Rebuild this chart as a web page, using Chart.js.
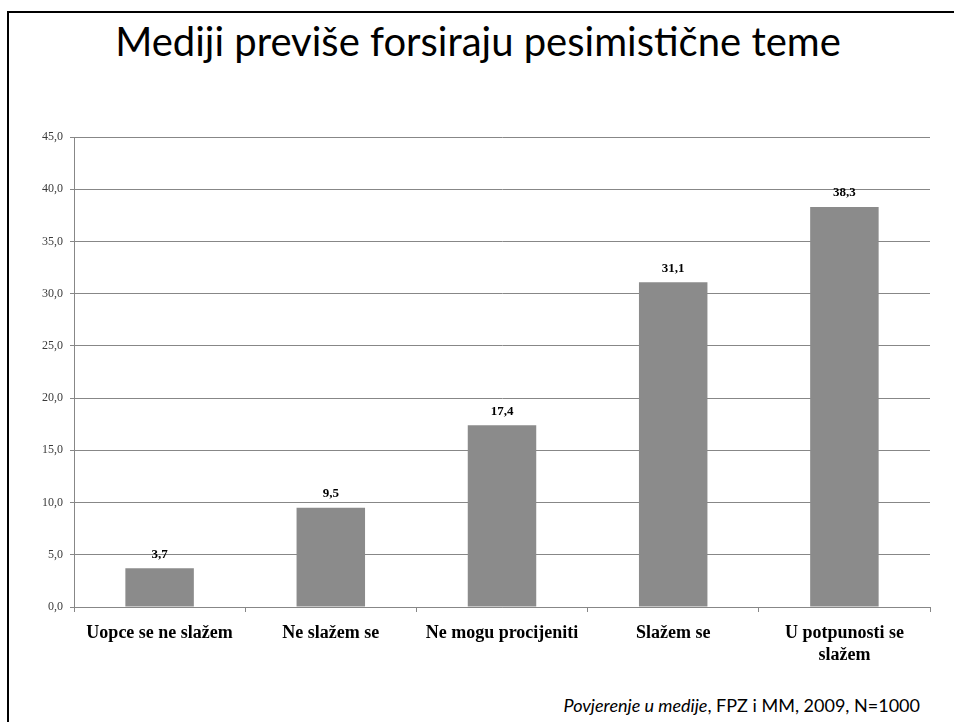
<!DOCTYPE html>
<html>
<head>
<meta charset="utf-8">
<script src="https://cdn.jsdelivr.net/npm/chart.js@4/dist/chart.umd.min.js"></script>
<style>
  html, body { margin:0; padding:0; background:#fff; }
  #wrap { position:relative; width:954px; height:722px; overflow:hidden; }
  #frame { position:absolute; left:7px; top:11px; width:960px; height:730px; border-left:2px solid #000; border-top:2px solid #000; }
  #title { position:absolute; left:0; width:956px; top:17px; text-align:center; font-family:Lato, "Open Sans", sans-serif; font-size:40px; color:#000; white-space:nowrap; }
  #foot { position:absolute; right:34px; top:694px; font-family:Lato, "Open Sans", sans-serif; font-size:18px; color:#000; white-space:nowrap; }
  #cv { position:absolute; left:0; top:0; }
</style>
</head>
<body>
<div id="wrap">
  <div id="frame"></div>
  <div id="title">Mediji previše forsiraju pesimistične teme</div>
  <div id="foot"><i>Povjerenje u medije</i>, FPZ i MM, 2009, N=1000</div>
  <canvas id="cv" width="954" height="722"></canvas>
</div>
<script>
const categories = ["Uopce se ne slažem", "Ne slažem se", "Ne mogu procijeniti", "Slažem se", ["U potpunosti se", "slažem"]];
const values = [3.7, 9.5, 17.4, 31.1, 38.3];
const yTicks = [0, 5, 10, 15, 20, 25, 30, 35, 40, 45];

const fmt = v => Number(v).toFixed(1).replace('.', ',');

const valueLabels = {
  id: 'valueLabels',
  afterDatasetsDraw(chart) {
    const ctx = chart.ctx;
    const meta = chart.getDatasetMeta(0);
    ctx.save();
    ctx.font = 'bold 13px "Liberation Serif", serif';
    ctx.fillStyle = '#000';
    ctx.textAlign = 'center';
    ctx.textBaseline = 'middle';
    meta.data.forEach((bar, i) => {
      ctx.fillText(fmt(chart.data.datasets[0].data[i]), bar.x, bar.y - 14);
    });
    ctx.restore();
  }
};

new Chart(document.getElementById('cv'), {
  type: 'bar',
  data: {
    labels: categories,
    datasets: [{
      data: values,
      backgroundColor: '#8b8b8b',
      borderWidth: 0,
      barPercentage: 0.4,
      categoryPercentage: 1.0
    }]
  },
  options: {
    responsive: false,
    animation: false,
    devicePixelRatio: 1,
    layout: { padding: { top: 137, right: 24, bottom: 0, left: 0 } },
    plugins: { legend: { display: false }, tooltip: { enabled: false }, title: { display: false } },
    scales: {
      x: {
        grid: { drawOnChartArea: false, drawTicks: true, tickLength: 5, offset: true, color: '#878787' },
        border: { color: '#878787', width: 1 },
        ticks: {
          color: '#000',
          padding: 10,
          maxRotation: 0,
          autoSkip: false,
          font: { family: '"Liberation Serif", serif', size: 18, weight: 'bold', lineHeight: 1.25 }
        },
        afterFit(s) { s.height = 115; }
      },
      y: {
        min: 0, max: 45,
        afterBuildTicks(s) { s.ticks = yTicks.map(v => ({ value: v })); },
        grid: { color: '#878787', tickLength: 4, drawTicks: true },
        border: { color: '#878787', width: 1 },
        ticks: {
          color: '#3a3a3a',
          padding: 7,
          font: { family: '"Liberation Serif", serif', size: 12 },
          callback: v => fmt(v)
        },
        afterFit(s) { s.width = 74; }
      }
    }
  },
  plugins: [valueLabels]
});
</script>
</body>
</html>
